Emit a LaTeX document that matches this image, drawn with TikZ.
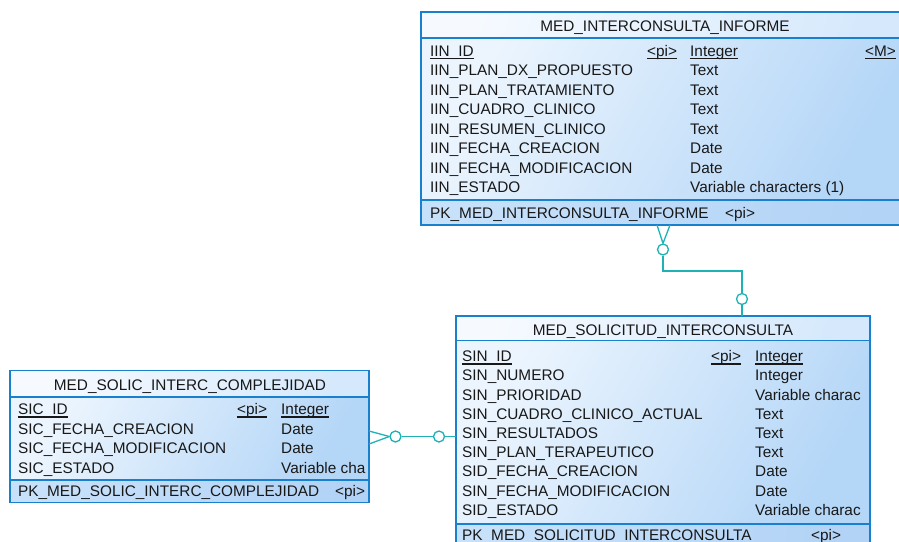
\documentclass[tikz,border=0pt]{standalone}
\usepackage{fontspec}
\setmainfont{Liberation Sans}
\usetikzlibrary{calc}

\definecolor{edge}{RGB}{24,128,204}
\definecolor{ink}{RGB}{24,24,24}
\definecolor{linkc}{RGB}{30,178,180}
\definecolor{ttlA}{RGB}{246,250,255}
\definecolor{ttlB}{RGB}{214,233,252}
\definecolor{bodyA}{RGB}{236,245,254}
\definecolor{bodyB}{RGB}{180,214,247}
\definecolor{pkA}{RGB}{200,225,250}
\definecolor{pkB}{RGB}{178,211,246}

% underlined key text, with the rule sitting just under the baseline
\newcommand{\keyul}[1]{\setbox0=\hbox{#1}\rlap{\rule[-3pt]{\wd0}{1.1pt}}\box0}

\tikzset{
  entity/.style={rectangle, draw=edge, line width=1.4pt, inner sep=0pt, outer sep=0pt, anchor=north west},
  fld/.style={anchor=base west, inner sep=0pt, text=ink},
  ttl/.style={anchor=base, inner sep=0pt, text=ink},
  sepline/.style={draw=edge, line width=1.6pt},
  titleshade/.style={left color=ttlA, right color=ttlB, shading angle=70},
  bodyshade/.style={left color=bodyA, right color=bodyB, shading angle=60},
  pkshade/.style={left color=pkA, right color=pkB, shading angle=80},
  link/.style={draw=linkc, line width=1.3pt},
  ring/.style={circle, draw=linkc, line width=1.3pt, fill=white, minimum size=11pt, inner sep=0pt},
}

\begin{document}
\begin{tikzpicture}[x=1pt, y=-1pt, font=\fontsize{15.35}{18}\selectfont]
\useasboundingbox (0,0) rectangle (899,541);

% ---------------- MED_INTERCONSULTA_INFORME ----------------
\shade[titleshade] (421,12) rectangle (909,38);
\shade[bodyshade]  (421,38) rectangle (909,200);
\shade[pkshade]    (421,200) rectangle (909,225);
\begin{scope}
  \clip (421,12) rectangle (909,225);
  \node[ttl] at (665,31.7) {MED\_INTERCONSULTA\_INFORME};
  \node[fld] at (430,56.2)  {\keyul{IIN\_ID}};
  \node[fld] at (647,56.2)  {\keyul{<pi>}};
  \node[fld] at (690,56.2)  {\keyul{Integer}};
  \node[fld] at (865,56.2)  {\keyul{<M>}};
  \node[fld] at (430,75.7)  {IIN\_PLAN\_DX\_PROPUESTO};
  \node[fld] at (690,75.7)  {Text};
  \node[fld] at (430,95.2)  {IIN\_PLAN\_TRATAMIENTO};
  \node[fld] at (690,95.2)  {Text};
  \node[fld] at (430,114.7) {IIN\_CUADRO\_CLINICO};
  \node[fld] at (690,114.7) {Text};
  \node[fld] at (430,134.2) {IIN\_RESUMEN\_CLINICO};
  \node[fld] at (690,134.2) {Text};
  \node[fld] at (430,153.7) {IIN\_FECHA\_CREACION};
  \node[fld] at (690,153.7) {Date};
  \node[fld] at (430,173.2) {IIN\_FECHA\_MODIFICACION};
  \node[fld] at (690,173.2) {Date};
  \node[fld] at (430,192.7) {IIN\_ESTADO};
  \node[fld] at (690,192.7) {Variable characters (1)};
  \node[fld] at (430,218.3) {PK\_MED\_INTERCONSULTA\_INFORME};
  \node[fld] at (725,218.3) {<pi>};
\end{scope}
\draw[sepline] (421,38) -- (909,38);
\draw[sepline] (421,200) -- (909,200);
\node[entity, minimum width=488pt, minimum height=213pt] (inf) at (421,12) {};

% ---------------- MED_SOLICITUD_INTERCONSULTA ----------------
\shade[titleshade] (456,316) rectangle (870,340.5);
\shade[bodyshade]  (456,340.5) rectangle (870,524);
\shade[pkshade]    (456,524) rectangle (870,548);
\begin{scope}
  \clip (456,316) rectangle (869,548);
  \node[ttl] at (663,335) {MED\_SOLICITUD\_INTERCONSULTA};
  \node[fld] at (462,361.5) {\keyul{SIN\_ID}};
  \node[fld] at (711,361.5) {\keyul{<pi>}};
  \node[fld] at (755,361.5) {\keyul{Integer}};
  \node[fld] at (462,380.8) {SIN\_NUMERO};
  \node[fld] at (755,380.8) {Integer};
  \node[fld] at (462,400)   {SIN\_PRIORIDAD};
  \node[fld] at (755,400)   {Variable charac};
  \node[fld] at (462,419.3) {SIN\_CUADRO\_CLINICO\_ACTUAL};
  \node[fld] at (755,419.3) {Text};
  \node[fld] at (462,438.5) {SIN\_RESULTADOS};
  \node[fld] at (755,438.5) {Text};
  \node[fld] at (462,457.7) {SIN\_PLAN\_TERAPEUTICO};
  \node[fld] at (755,457.7) {Text};
  \node[fld] at (462,476.9) {SID\_FECHA\_CREACION};
  \node[fld] at (755,476.9) {Date};
  \node[fld] at (462,496.1) {SIN\_FECHA\_MODIFICACION};
  \node[fld] at (755,496.1) {Date};
  \node[fld] at (462,515.3) {SID\_ESTADO};
  \node[fld] at (755,515.3) {Variable charac};
  \node[fld] at (462,540)   {PK\_MED\_SOLICITUD\_INTERCONSULTA};
  \node[fld] at (811,540)   {<pi>};
\end{scope}
\draw[sepline] (456,340.5) -- (870,340.5);
\draw[sepline] (456,524) -- (870,524);
\node[entity, minimum width=414pt, minimum height=232pt] (sol) at (456,316) {};

% ---------------- MED_SOLIC_INTERC_COMPLEJIDAD ----------------
\shade[titleshade] (10,370.5) rectangle (369,397);
\shade[bodyshade]  (10,397) rectangle (369,480);
\shade[pkshade]    (10,480) rectangle (369,502.5);
\begin{scope}
  \clip (10,370.5) rectangle (368.5,502.5);
  \node[ttl] at (190,390) {MED\_SOLIC\_INTERC\_COMPLEJIDAD};
  \node[fld] at (18,414.5)  {\keyul{SIC\_ID}};
  \node[fld] at (237,414.5) {\keyul{<pi>}};
  \node[fld] at (281,414.5) {\keyul{Integer}};
  \node[fld] at (18,434)    {SIC\_FECHA\_CREACION};
  \node[fld] at (281,434)   {Date};
  \node[fld] at (18,453.5)  {SIC\_FECHA\_MODIFICACION};
  \node[fld] at (281,453.5) {Date};
  \node[fld] at (18,473)    {SIC\_ESTADO};
  \node[fld] at (281,473)   {Variable cha};
  \node[fld] at (18,496.5)  {PK\_MED\_SOLIC\_INTERC\_COMPLEJIDAD};
  \node[fld] at (335,496.5) {<pi>};
\end{scope}
\draw[sepline] (10,397) -- (369,397);
\draw[sepline] (10,480) -- (369,480);
\node[entity, minimum width=359pt, minimum height=132pt] (sic) at (10,370.5) {};

% ---------------- relationships ----------------
% informe (many, optional) -- solicitud (one, optional)
\node[ring] (c1) at (663,249.5) {};
\node[ring] (c2) at (742,299) {};
\coordinate (jog) at (700,271);
\draw[link] ($(inf.south west)+(236,0)$) -- (c1.north);
\draw[link] ($(inf.south west)+(249,0)$) -- (c1.north);
\draw[link] (c1.south) |- (jog) -| (c2.north);
\draw[link] (c2.south) -- (c2.south |- sol.north);

% complejidad (many, optional) -- solicitud (one, optional)
\node[ring] (c3) at (395.5,436.5) {};
\node[ring] (c4) at (439,436.5) {};
\draw[link] ($(sic.north east)+(0,60.5)$) -- (c3.west);
\draw[link] ($(sic.north east)+(0,73.5)$) -- (c3.west);
\draw[link] (c3.east) -- (c4.west);
\draw[link] (c4.east) -- (c4.east -| sol.west);

\end{tikzpicture}
\end{document}
